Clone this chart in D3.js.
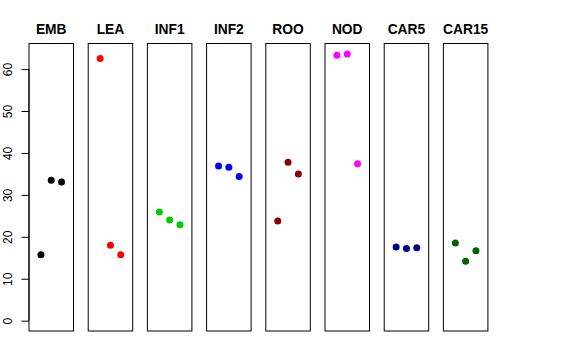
<!DOCTYPE html>
<html>
<head>
<meta charset="utf-8">
<script src="https://cdn.jsdelivr.net/npm/d3@7"></script>
<style>
html,body{margin:0;padding:0;background:#fff;}
svg{display:block;}
</style>
</head>
<body>
<svg id="chart" width="576" height="360"></svg>
<script>
const categories = ["EMB","LEA","INF1","INF2","ROO","NOD","CAR5","CAR15"];
const colors = ["#000000","#FF0000","#00CD00","#0000FF","#8B0000","#FF00FF","#00008B","#006400"];
const values = [
  [15.7, 33.5, 33.1],
  [62.5, 18.0, 15.7],
  [25.9, 24.0, 22.9],
  [36.9, 36.6, 34.4],
  [23.8, 37.8, 35.0],
  [63.3, 63.6, 37.4],
  [17.6, 17.2, 17.4],
  [18.5, 14.2, 16.7]
];
const yTicks = [0,10,20,30,40,50,60];

const svg = d3.select("#chart");
const panelW = 44.5, panelStep = 59.2, left0 = 29;
const plotTop = 43.5, plotBottom = 331;

const y = d3.scaleLinear().domain([-2.46, 66.1]).range([plotBottom, plotTop]);
const xPanel = d3.scaleBand().domain(categories)
  .range([left0, left0 + panelStep*(categories.length-1) + panelW])
  .paddingInner((panelStep-panelW)/panelStep).paddingOuter(0);

categories.forEach((cat, i) => {
  const px = xPanel(cat), pw = xPanel.bandwidth();
  const x = d3.scaleLinear().domain([-0.16, 4.16]).range([px, px + pw]);
  const g = svg.append("g");
  g.append("rect").attr("x", px).attr("y", plotTop).attr("width", pw).attr("height", plotBottom-plotTop)
    .attr("fill","none").attr("stroke","#000").attr("stroke-width",1);
  g.append("text").attr("x", px + pw/2).attr("y", 34.3)
    .attr("text-anchor","middle").attr("font-family","Liberation Sans, Arial, sans-serif")
    .attr("font-weight","bold").attr("font-size","13.8px").text(cat);
  g.selectAll("circle").data(values[i]).enter().append("circle")
    .attr("cx", (d,j) => x(j+1)).attr("cy", d => y(d)).attr("r", 3.5)
    .attr("fill", colors[i]);
});

// y axis on first panel
const axis = d3.axisLeft(y).tickValues(yTicks).tickSize(7.5).tickPadding(0).tickFormat(d3.format("d"));
const ag = svg.append("g").attr("transform", `translate(${left0},0)`).call(axis);
ag.select(".domain").attr("d", `M0,${y(0)}V${y(60)}`).attr("stroke","#000");
ag.selectAll(".tick line").attr("stroke","#000");
ag.selectAll(".tick text").remove();
ag.selectAll(".tick").append("text")
  .attr("transform","translate(-17.5,0) rotate(-90)")
  .attr("text-anchor","middle").attr("fill","#000")
  .attr("font-family","Liberation Sans, Arial, sans-serif").attr("font-size","12px")
  .text(d => d);
</script>
</body>
</html>
